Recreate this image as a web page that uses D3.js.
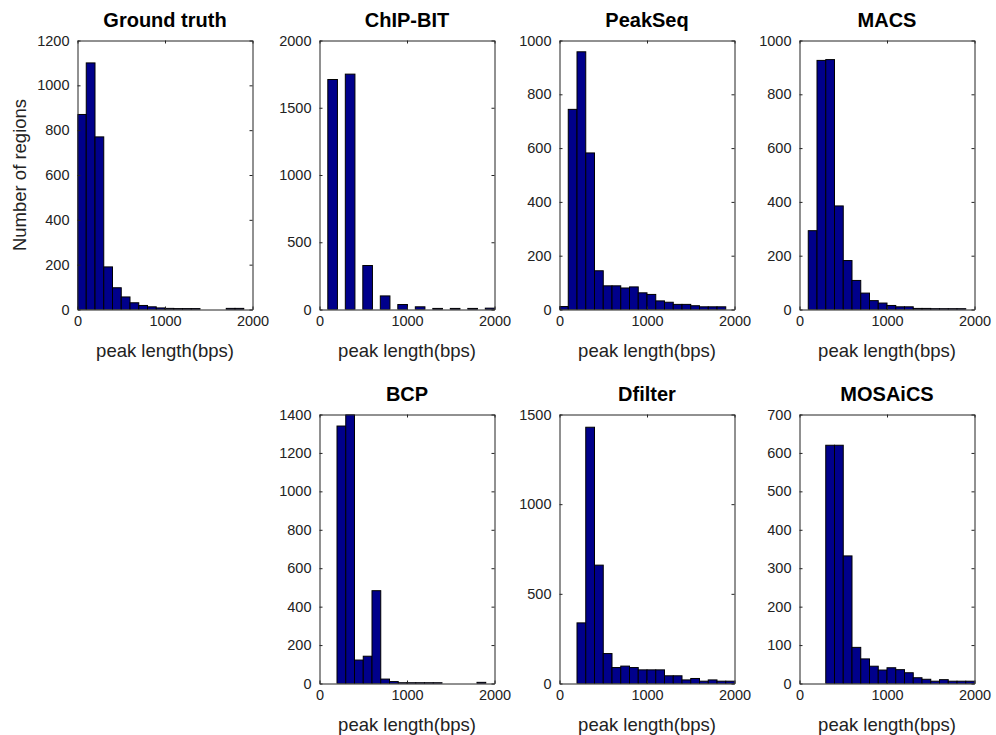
<!DOCTYPE html>
<html lang="en">
<head>
<meta charset="UTF-8">
<title>Peak length histograms</title>
<script src="https://d3js.org/d3.v7.min.js"></script>
<style>
    body {
        margin: 0;
        background: #fff;
        font-family: "Liberation Sans", Arial, sans-serif;
    }
    .title {
        font-size: 20px;
        font-weight: bold;
        text-anchor: middle;
        fill: #000;
    }
    .xlabel, .ylabel {
        font-size: 18.5px;
        text-anchor: middle;
        fill: #222;
    }
    .tick text {
        font-size: 14.5px;
        fill: #222;
        font-family: "Liberation Sans", Arial, sans-serif;
    }
    .tick line, .domain {
        stroke: #222;
    }
    .bar {
        fill: #00008b;
        stroke: #000;
        stroke-width: 1;
    }
</style>
</head>
<body>
<div id="chart"></div>
<script>
// panel titles
const titles = ["Ground truth", "ChIP-BIT", "PeakSeq", "MACS", "BCP", "Dfilter", "MOSAiCS"];

// histogram counts per method (bin width mostly 100 bps)
const groundTruth = [870, 1100, 770, 190, 97, 56, 30, 18, 12, 7, 5, 4, 4, 4, 0, 0, 0, 5, 5, 0];
const chipBit = [1710, 1750, 327, 101, 37, 20, 8, 8, 8, 10];
const peakSeq = [11, 744, 958, 582, 144, 88, 88, 80, 84, 62, 56, 32, 27, 19, 19, 14, 10, 10, 10];
const macs = [293, 926, 929, 385, 182, 108, 61, 33, 24, 15, 10, 10, 4, 4, 3, 3, 3, 3];
const bcp = [1340, 1400, 122, 142, 483, 23, 10, 4, 4, 4, 4, 4, 0, 0, 0, 0, 6];
const dfilter = [338, 1429, 660, 167, 89, 97, 89, 76, 76, 76, 43, 43, 20, 28, 13, 20, 13, 13];
const mosaics = [620, 620, 332, 94, 64, 45, 35, 41, 36, 28, 15, 11, 6, 10, 6, 6, 6];

const counts = [groundTruth, chipBit, peakSeq, macs, bcp, dfilter, mosaics];
const binStarts = [0, 50, 0, 100, 200, 200, 300];
const binWidths = [100, 200, 100, 100, 100, 100, 100];
const barFractions = [1, 0.55, 1, 1, 1, 1, 1];

// axis ranges and ticks
const yMaxes = [1200, 2000, 1000, 1000, 1400, 1500, 700];
const ySteps = [200, 500, 200, 200, 200, 500, 100];
const xTicks = [0, 1000, 2000];
const xLabel = "peak length(bps)";
const yLabel = "Number of regions";

// layout: grid slot of each panel
const slots = [[0, 0], [0, 1], [0, 2], [0, 3], [1, 1], [1, 2], [1, 3]];
const colLefts = [77, 319, 559, 799];
const rowTops = [40.5, 414.5];
const pw = 175, ph = 269;

const svg = d3.select("#chart").append("svg")
    .attr("width", 996)
    .attr("height", 735);

titles.forEach((title, i) => {
    const [row, col] = slots[i];
    const g = svg.append("g")
        .attr("transform", `translate(${colLefts[col] + 0.5},${rowTops[row]})`);

    const x = d3.scaleLinear().domain([0, 2000]).range([0, pw]);
    const y = d3.scaleLinear().domain([0, yMaxes[i]]).range([ph, 0]);

    // clip so bars stay inside the box
    svg.append("clipPath").attr("id", "clip" + i)
        .append("rect").attr("width", pw).attr("height", ph);

    const bins = counts[i].map((c, k) => {
        const center = binStarts[i] + binWidths[i] * (k + 0.5);
        const half = binWidths[i] * barFractions[i] / 2;
        return { x0: center - half, x1: center + half, count: c };
    });

    g.append("g")
        .attr("clip-path", `url(#clip${i})`)
        .selectAll("rect")
        .data(bins)
        .join("rect")
        .attr("class", "bar")
        .attr("x", d => x(d.x0))
        .attr("width", d => x(d.x1) - x(d.x0))
        .attr("y", d => y(d.count))
        .attr("height", d => y(0) - y(d.count));

    const yTicks = d3.range(0, yMaxes[i] + 1, ySteps[i]);

    // inward ticks like matlab
    g.append("g")
        .attr("transform", `translate(0,${ph})`)
        .call(d3.axisBottom(x).tickValues(xTicks).tickSizeInner(-3).tickSizeOuter(0).tickPadding(6).tickFormat(d3.format("d")));
    g.append("g")
        .call(d3.axisLeft(y).tickValues(yTicks).tickSizeInner(-3).tickSizeOuter(0).tickPadding(8).tickFormat(d3.format("d")));
    g.append("g")
        .call(d3.axisTop(x).tickValues(xTicks).tickSizeInner(-3).tickSizeOuter(0).tickFormat(""));
    g.append("g")
        .attr("transform", `translate(${pw},0)`)
        .call(d3.axisRight(y).tickValues(yTicks).tickSizeInner(-3).tickSizeOuter(0).tickFormat(""));

    g.selectAll(".tick text").filter(function () { return this.textContent === ""; }).remove();

    g.append("text")
        .attr("class", "title")
        .attr("x", pw / 2)
        .attr("y", -14)
        .text(title);

    g.append("text")
        .attr("class", "xlabel")
        .attr("x", pw / 2)
        .attr("y", ph + 47)
        .text(xLabel);

    if (i === 0) {
        g.append("text")
            .attr("class", "ylabel")
            .attr("transform", `translate(-52,${ph / 2}) rotate(-90)`)
            .text(yLabel);
    }
});
</script>
</body>
</html>
